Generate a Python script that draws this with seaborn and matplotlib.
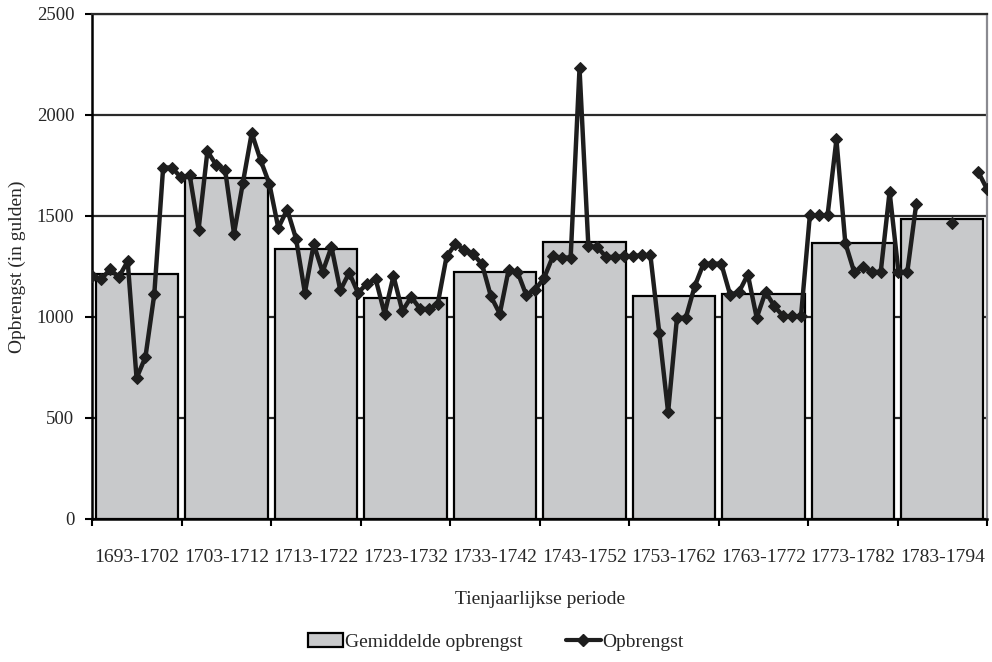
import numpy as np
import pandas as pd
import seaborn as sns
import matplotlib.pyplot as plt
from matplotlib.patches import Patch
from matplotlib.lines import Line2D

# decade averages (bars)
periods = ['1693-1702', '1703-1712', '1713-1722', '1723-1732', '1733-1742',
           '1743-1752', '1753-1762', '1763-1772', '1773-1782', '1783-1794']
avg_revenue = [1214, 1685, 1334, 1093, 1222, 1371, 1101, 1114, 1366, 1484]

# yearly revenue 1693-1794 (line), NaN = no data
years = list(range(1693, 1795))
revenue = [
    1200, 1185, 1235, 1197, 1275, 696, 800, 1111, 1739, 1739,
    1690, 1701, 1432, 1820, 1751, 1726, 1412, 1663, 1910, 1776,
    1657, 1440, 1531, 1387, 1119, 1359, 1222, 1346, 1131, 1218,
    1118, 1164, 1185, 1015, 1202, 1028, 1098, 1040, 1037, 1065,
    1300, 1360, 1333, 1310, 1260, 1101, 1015, 1233, 1222, 1106,
    1134, 1192, 1300, 1293, 1293, 2230, 1349, 1346, 1296, 1296,
    1300, 1300, 1305, 1305, 921, 527, 995, 995, 1151, 1263,
    1263, 1263, 1109, 1123, 1209, 995, 1123, 1052, 1002, 1002,
    1002, 1503, 1503, 1503, 1878, 1366, 1222, 1247, 1222, 1222,
    1619, 1222, 1222, 1557, np.nan, np.nan, np.nan, 1462, np.nan, np.nan,
    1718, 1632,
]

BAR_COLOR = '#c8c9cb'
LINE_COLOR = '#1e1e1e'

sns.set_theme(style='white')
plt.rcParams['font.family'] = ['Liberation Serif', 'DejaVu Serif']

fig = plt.figure(figsize=(9.92, 6.62), dpi=100)
ax = fig.add_axes([0.093, 0.2165, 0.902, 0.7625])

bars = pd.DataFrame({'periode': periods, 'gemiddeld': avg_revenue})
sns.barplot(data=bars, x='periode', y='gemiddeld', color=BAR_COLOR,
            edgecolor='black', linewidth=1.6, width=0.92, saturation=1,
            ax=ax, zorder=2)

ax.set_xlim(-0.5, 9.5)
ax.set_ylim(0, 2500)
ax.set_yticks(range(0, 2501, 500))
ax.yaxis.grid(True, color='#2a2a2a', linewidth=1.6, zorder=0)
ax.set_axisbelow(True)
ax.set_xticks(np.arange(-0.5, 9.6, 1), minor=True)
ax.tick_params(axis='x', which='major', length=0, labelsize=14, pad=22)
ax.tick_params(axis='x', which='minor', length=5, width=1.5, color='black',
               bottom=True)
ax.tick_params(axis='y', length=5, width=1.5, color='black', left=True,
               labelsize=13.5, pad=8)
ax.set_xlabel('Tienjaarlijkse periode', fontsize=14, labelpad=18)
ax.set_ylabel('Opbrengst (in gulden)', fontsize=14, labelpad=8)

for side in ['left', 'bottom']:
    ax.spines[side].set_color('black')
    ax.spines[side].set_linewidth(1.8)
ax.spines['top'].set_color('#2a2a2a')
ax.spines['top'].set_linewidth(1.6)
ax.spines['right'].set_color('#8a8a90')
ax.spines['right'].set_linewidth(1.6)

# yearly line on a twin x-axis spanning the full category range
vals = pd.Series(revenue, dtype=float)
line = pd.DataFrame({
    'pos': [-0.5 + i * 10 / (len(years) - 1) for i in range(len(years))],
    'opbrengst': vals,
    'seg': vals.isna().cumsum(),
}).dropna()

ax2 = ax.twiny()
sns.lineplot(data=line, x='pos', y='opbrengst', units='seg', estimator=None,
             color=LINE_COLOR, linewidth=3.2, marker='D', markersize=6,
             markeredgecolor=LINE_COLOR, ax=ax2)
ax2.set_xlim(-0.5, 9.5)
ax2.set_ylim(0, 2500)
ax2.set_xticks([])
ax2.set_xlabel('')
ax2.set_ylabel('')
for s in ax2.spines.values():
    s.set_visible(False)

handles = [
    Patch(facecolor=BAR_COLOR, edgecolor='black', linewidth=1.6,
          label='Gemiddelde opbrengst'),
    Line2D([0], [0], color=LINE_COLOR, linewidth=3, marker='D',
           markersize=6, label='Opbrengst'),
]
fig.legend(handles=handles, loc='center', bbox_to_anchor=(0.5, 0.03),
           ncol=2, frameon=False, fontsize=14, handlelength=1.8,
           handletextpad=0.1, columnspacing=2.2)

fig.savefig('out.png', dpi=100)
